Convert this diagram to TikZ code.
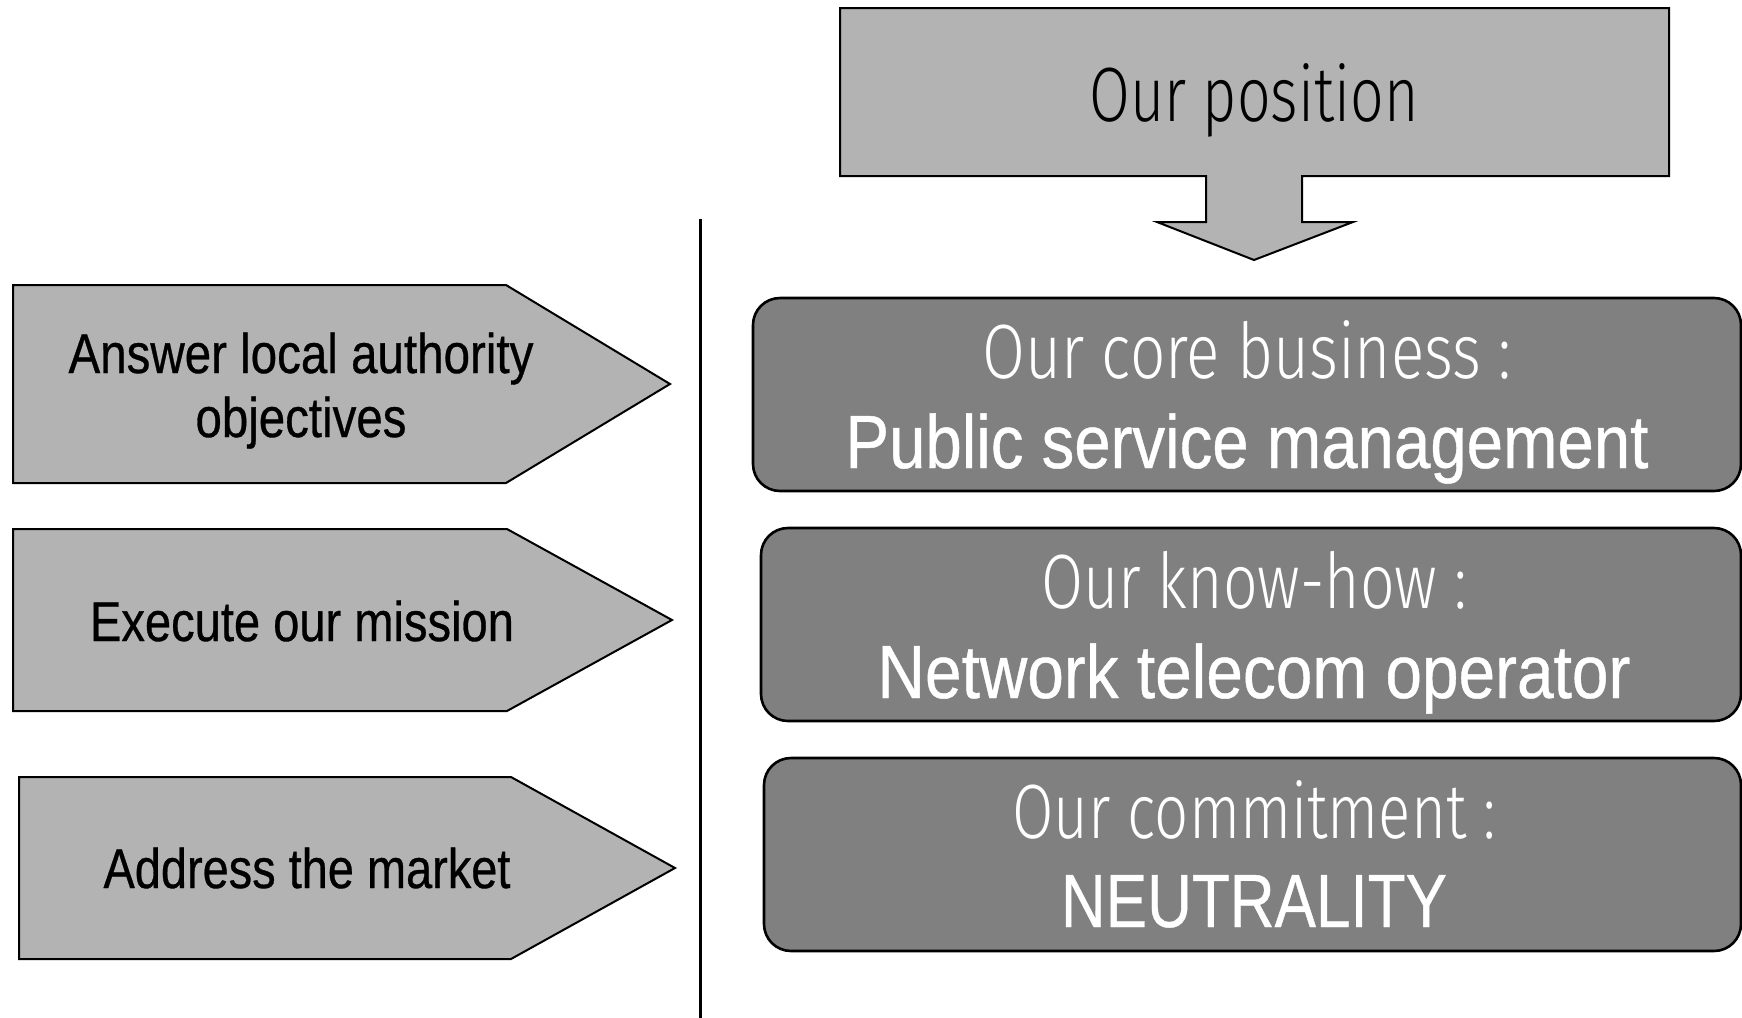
\documentclass[tikz,border=0pt]{standalone}
\usepackage{fontspec}
\usepackage{graphicx}
\setmainfont{Liberation Sans}
\newfontfamily\heavyfont[FakeBold=0.6]{Liberation Sans}
\newfontfamily\lightfont{Fira Sans Light}
\definecolor{lightg}{RGB}{179,179,179}
\definecolor{darkg}{RGB}{128,128,128}
\newcommand{\fitw}[2]{\resizebox{#1}{\height}{#2}}
\begin{document}
\begin{tikzpicture}[x=0.5pt,y=-0.5pt,
  shapebox/.style={draw=black,line width=1pt,fill=lightg,line join=miter},
  roundbox/.style={draw=black,line width=1.3pt,fill=darkg,rounded corners=13.5pt},
  lbl/.style={inner sep=0pt,anchor=base},
  lightlbl/.style={lbl,text=white,font=\lightfont\fontsize{38.5pt}{40pt}\selectfont},
  toplbl/.style={lbl,text=black,font=\lightfont\fontsize{38.5pt}{40pt}\selectfont},
  boldlbl/.style={lbl,text=white,font=\heavyfont\fontsize{37.7pt}{40pt}\selectfont},
  leftlbl/.style={lbl,text=black,font=\heavyfont\fontsize{28pt}{30pt}\selectfont}]
\useasboundingbox (0,0) rectangle (1742,1018);
% top box with arrow
\draw[shapebox] (840,8) -- (1669,8) -- (1669,176) -- (1302,176) -- (1302,222)
  -- (1353,222) -- (1254,260) -- (1157,222) -- (1206,222) -- (1206,176)
  -- (840,176) -- cycle;
\node[toplbl] (pos) at (1254,121) {\fitw{164.5pt}{Our position}};
% separator
\coordinate (vtop) at (700,219);
\coordinate (vbot) at (700,1020);
\draw[line width=1.5pt] (vtop) -- (vbot);
% left arrows
\draw[shapebox] (13,285) -- (506,285) -- (670,384) -- (506,483) -- (13,483) -- cycle;
\draw[shapebox] (13,529) -- (507,529) -- (672,620) -- (507,711) -- (13,711) -- cycle;
\draw[shapebox] (19,777) -- (511,777) -- (675,868) -- (511,959) -- (19,959) -- cycle;
\node[leftlbl] (a1) at (301,373) {\fitw{232.5pt}{Answer local authority}};
\node[leftlbl] (a1b) at (301,437) {\fitw{105.5pt}{objectives}};
\node[leftlbl] (a2) at (302,641) {\fitw{212pt}{Execute our mission}};
\node[leftlbl] (a3) at (307,888) {\fitw{203.5pt}{Address the market}};
% right rounded boxes
\draw[roundbox] (753,298) rectangle (1741,491);
\draw[roundbox] (761,528) rectangle (1741,721);
\draw[roundbox] (764,758) rectangle (1741,951);
\node[lightlbl] (r1) at (1247,378) {\fitw{264.5pt}{Our core business :}};
\node[boldlbl] (r1b) at (1247,468) {\fitw{401.5pt}{Public service management}};
\node[lightlbl] (r2) at (1254,608) {\fitw{213pt}{Our know-how :}};
\node[boldlbl] (r2b) at (1254,698) {\fitw{376.5pt}{Network telecom operator}};
\node[lightlbl] (r3) at (1254,838) {\fitw{241.5pt}{Our commitment :}};
\node[boldlbl] (r3b) at (1254,927) {\fitw{193pt}{NEUTRALITY}};
\end{tikzpicture}
\end{document}
